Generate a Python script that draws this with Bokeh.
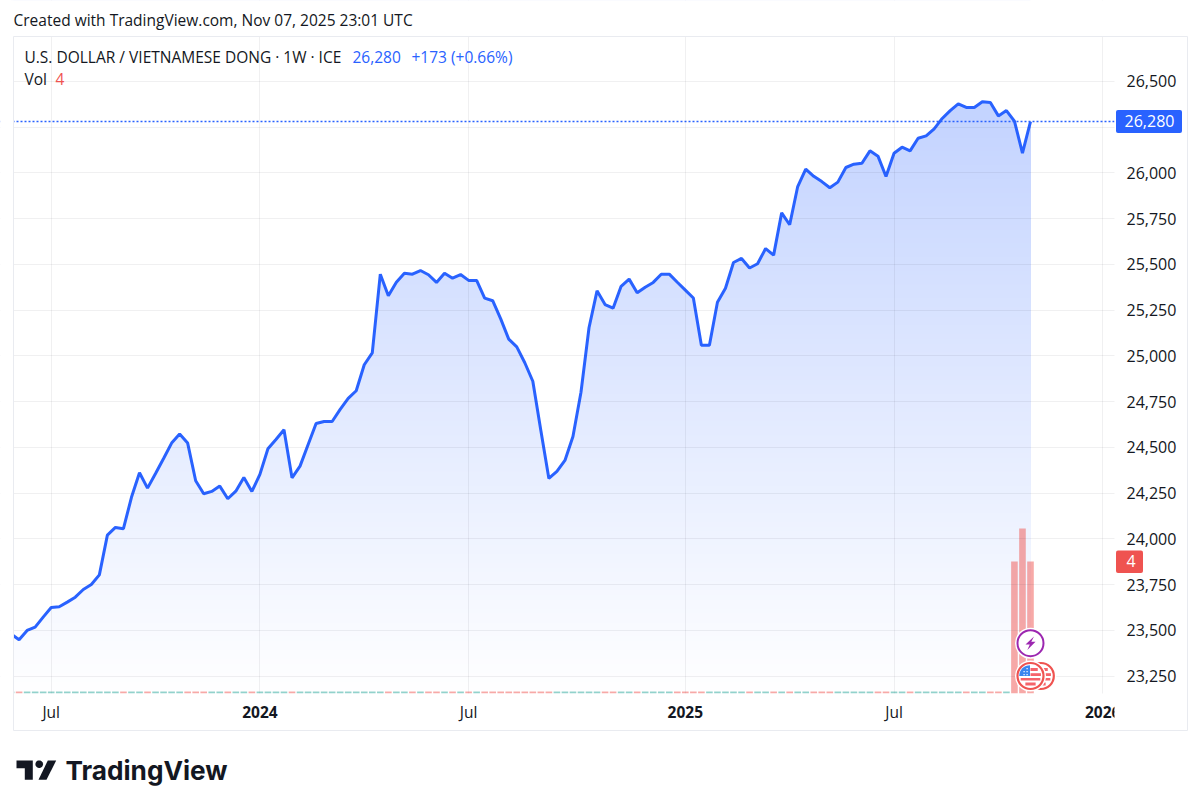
import numpy as np
import pandas as pd
from bokeh.embed import file_html
from bokeh.resources import INLINE
from bokeh.models import (BoxAnnotation, ColumnDataSource, DatetimeAxis, FixedTicker, Grid, Label, LinearAxis,
                          NumeralTickFormatter, PolyAnnotation, Range1d, Span)
from bokeh.plotting import figure

# ---------- data ----------
first_week = "2023-05-29"
close = [23480, 23448, 23499, 23517, 23572, 23625, 23629, 23654, 23681, 23723, 23750, 23803,
         24020, 24062, 24055, 24227, 24361, 24277, 24357, 24439, 24523, 24572, 24523, 24317,
         24246, 24259, 24288, 24219, 24260, 24335, 24259, 24352, 24492, 24543, 24596, 24333,
         24397, 24514, 24630, 24641, 24641, 24707, 24767, 24809, 24951, 25016, 25446, 25328,
         25402, 25451, 25446, 25466, 25443, 25401, 25451, 25424, 25444, 25412, 25412, 25315,
         25301, 25202, 25091, 25049, 24962, 24861, 24592, 24330, 24368, 24428, 24559, 24801,
         25153, 25355, 25280, 25260, 25380, 25419, 25344, 25375, 25401, 25446, 25446, 25402,
         25359, 25316, 25058, 25058, 25293, 25369, 25510, 25532, 25480, 25503, 25586, 25550,
         25781, 25716, 25925, 26020, 25981, 25952, 25918, 25949, 26029, 26047, 26052, 26120,
         26091, 25980, 26107, 26140, 26120, 26189, 26202, 26240, 26297, 26340, 26377, 26357,
         26357, 26388, 26384, 26311, 26340, 26282, 26107, 26280]
volume_tail = [4, 5, 4]
volume_floor = 0.06
price_ticks = [23250, 23500, 23750, 24000, 24250, 24500, 24750, 25000, 25250, 25500,
               25750, 26000, 26250, 26500]
month_ticks = ["2023-07-03", "2024-07-01", "2025-07-07"]
year_ticks = ["2024-01-01", "2025-01-06", "2026-01-05"]
year_labels = ["2024", "2025", "2026"]
last_price = 26280

BLUE, RED, TEAL, INK = "#2962ff", "#ef5350", "#26a69a", "#131722"
FONT = "Open Sans"

weeks = pd.date_range(first_week, periods=len(close), freq="W-MON")
n = len(close)
week_ms = 7 * 24 * 3600 * 1000
ms = lambda s: pd.Timestamp(s).value / 1e6
volume = [volume_floor] * (n - 3) + volume_tail
bar_color = [RED if i and close[i] < close[i - 1] else TEAL for i in range(n)]
bar_color[-3:] = [RED] * 3

# ---------- page geometry (page pixels); the frame fills the whole canvas ----------
W, H = 1192, 803
L, R, T, B = 13, 1114, 36, 693
sx = lambda x: x
sy = lambda y: H - y

anchor = ms(month_ticks[0])
px_week = 8.027
x_range = Range1d(anchor + (0 - 50.7) / px_week * week_ms, anchor + (W - 50.7) / px_week * week_ms)
px_unit = 0.183
val = lambda y: 26000 + (172.3 - y) / px_unit
y_low, y_high = val(H), val(0)
y_base = val(B)
y_range = Range1d(y_low, y_high)

p = figure(width=W, height=H, output_backend="svg", toolbar_location=None,
           x_range=x_range, y_range=y_range, x_axis_location=None, y_axis_location=None,
           x_axis_type="datetime", min_border=0, outline_line_color=None,
           background_fill_color="white", border_fill_color="white")
vol_px = 33.0
p.extra_y_ranges = {"vol": Range1d(-(H - B) / vol_px, B / vol_px)}
p.grid.visible = False

# gradient fill: painter-ordered bands, then white above the price line
edges = np.arange(y_high, y_base, -25.0)
alpha = 0.28 * np.clip((edges - y_base) / (val(101) - y_base), 0, 1)
rgb = [(255 - (255 - 41) * a, 255 - (255 - 98) * a, 255) for a in alpha]
colors = ["#%02x%02x%02x" % (round(a), round(b), round(c)) for a, b, c in rgb]
p.quad(left=[weeks[0]] * len(edges), right=[weeks[-1]] * len(edges), top=edges, bottom=[y_base] * len(edges),
       fill_color=colors, line_color=None)
mask_x = list(weeks) + [weeks[-1] + pd.Timedelta(days=7)]
p.varea(x=mask_x, y1=close + [close[-1]], y2=[y_high] * (n + 1), fill_color="white")

# grid
month_ms = [ms(d) for d in month_ticks]
year_ms = [ms(d) for d in year_ticks]
for dim, ticks in ((0, month_ms + year_ms), (1, price_ticks)):
    p.add_layout(Grid(dimension=dim, ticker=FixedTicker(ticks=ticks), grid_line_color="#2a2e39",
                      grid_line_alpha=0.07, grid_line_width=1, level="guide"))

# volume
src = ColumnDataSource(dict(x=weeks, v=volume, c=bar_color))
p.vbar(x="x", top="v", bottom=0, width=6.6 / px_week * week_ms, source=src, y_range_name="vol",
       fill_color="c", fill_alpha=0.5, line_color=None, level="guide")

# price line
p.renderers.append(Span(location=last_price, dimension="width", line_color=BLUE, line_width=1.4,
                        line_dash=[2, 2], level="guide"))
p.line(weeks, close, line_color=BLUE, line_width=3, level="guide")

def box(x0, x1, y0, y1, fill, radius=0, line=None, level="overlay"):
    b = BoxAnnotation(left=sx(x0), right=sx(x1), top=sy(y0), bottom=sy(y1),
                      left_units="screen", right_units="screen", top_units="screen", bottom_units="screen",
                      fill_color=fill, fill_alpha=1 if fill else 0, line_color=line, line_alpha=1 if line else 0,
                      border_radius=radius, level=level, editable=False)
    p.renderers.append(b)
    return b

def poly(xs, ys, color):
    p.renderers.append(PolyAnnotation(xs=[sx(v) for v in xs], ys=[sy(v) for v in ys], xs_units="screen",
                                      ys_units="screen", fill_color=color, fill_alpha=1, line_alpha=0,
                                      level="overlay"))

# margins around the pane
box(-5, L, -5, H + 5, "white", level="annotation")
box(R, W + 5, -5, H + 5, "white", level="annotation")
box(-5, W + 5, -5, T, "white", level="annotation")
box(-5, W + 5, B, H + 5, "white", level="annotation")

# axes, pinned inside the frame
yax = LinearAxis(fixed_location=x_range.start + R / px_week * week_ms, ticker=FixedTicker(ticks=price_ticks),
                 formatter=NumeralTickFormatter(format="0,0"), axis_line_color=None, major_tick_line_color=None,
                 minor_tick_line_color=None, major_label_standoff=6, major_label_text_font=FONT,
                 major_label_text_font_size="16px", major_label_text_color=INK,
                 major_label_overrides={26250: ""}, level="overlay")
p.add_layout(yax, "right")
xax = DatetimeAxis(fixed_location=y_base, ticker=FixedTicker(ticks=month_ms),
                   major_label_overrides={m: "Jul" for m in month_ms}, axis_line_color=None,
                   major_tick_line_color=None, minor_tick_line_color=None, major_label_standoff=1,
                   major_label_text_font=FONT, major_label_text_font_size="15.5px", major_label_text_color=INK,
                   level="overlay")
p.add_layout(xax, "below")

def text(x, y, s, size=15.5, color=INK, style="normal", align="left", font=FONT, xunits="screen"):
    lab = Label(x=x if xunits == "data" else sx(x), y=sy(y - 1), x_units=xunits, y_units="screen", text=s,
                text_font=font, text_font_size=f"{size}px", text_color=color, text_font_style=style,
                text_align=align, text_baseline="middle", level="overlay")
    p.renderers.append(lab)
    return lab

for m, lab in zip(year_ms, year_labels):
    text(m, 712, lab, size=15.5, style="bold", align="center", xunits="data")

# hide the clipped part of the last year label, draw frame
box(R, R + 50, 697, 727, "white")
box(L, 1187, T, 730, None, line="#e9ebf0")

# events
bx, by = 1030, 642.7
p.scatter([weeks[-1]], [val(by)], size=31, fill_color="white", line_color=None, level="overlay")
p.scatter([weeks[-1]], [val(by)], size=26, fill_color="white", line_color="#9c27b0", line_width=2, level="overlay")
poly([bx + 3.5, bx - 5, bx - 0.7, bx - 3.2, bx + 5, bx + 0.8],
     [by - 6.8, by + 1.2, by + 1.2, by + 6.8, by - 1.4, by - 1.4], "#9c27b0")

def flag(cx, date):
    cy, r = 675.5, 10.8
    p.scatter([date], [val(cy)], size=31, fill_color="white", line_color=None, level="overlay")
    p.scatter([date], [val(cy)], size=26, fill_color="white", line_color=RED, line_width=2.2, level="overlay")
    for y0, y1, x_min in [(667.5, 670.5, cx), (672.7, 675.5, cx), (677.5, 680, cx - 20), (682, 685, cx - 20)]:
        dy = max(abs(y0 - cy), abs(y1 - cy))
        half = (r ** 2 - dy ** 2) ** 0.5
        box(max(cx - half, x_min), cx + half, y0, y1, "#f5636a")
    t = np.linspace(np.pi, 1.5 * np.pi, 9)
    poly([cx - 0.5] + [cx - 0.5 + r * np.cos(a) for a in t], [cy] + [cy + r * np.sin(a) for a in t], "#3b86ef")
    for dx, dy in [(-7, -2), (-4, -2), (-7, -5), (-4, -5), (-4, -8)]:
        box(cx + dx, cx + dx + 1.2, cy + dy, cy + dy + 1.2, "white")

flag(1040, weeks[-1] + pd.Timedelta(days=9))
flag(1030, weeks[-1])

# price tags
box(1115.5, 1181.5, 109.5, 132.5, BLUE, radius=2)
text(1149, 121, "26,280", size=16, color="white", align="center")
box(1115.5, 1142.5, 550, 572.5, RED, radius=2)
text(1130.5, 561.5, "4", size=16, color="white", align="center")

# header texts
text(13, 20, "Created with TradingView.com, Nov 07, 2025 23:01 UTC")
text(24, 57, "U.S. DOLLAR / VIETNAMESE DONG \u00b7 1W \u00b7 ICE")
text(352, 57, "26,280", color=BLUE)
text(411, 57, "+173 (+0.66%)", color=BLUE)
text(24, 79, "Vol")
text(55, 79, "4", color=RED)

# logo
poly([16, 32.3, 32.3, 24.3, 24.3, 16], [760, 760, 779.3, 779.3, 767.7, 767.7], INK)
poly([47.3, 55.7, 46, 38], [760, 760, 779.3, 779.3], INK)
t = np.linspace(0, 2 * np.pi, 24)
poly([38.7 + 3.8 * np.cos(a) for a in t], [763.7 + 3.8 * np.sin(a) for a in t], INK)
text(65, 771, "TradingView", size=26.2, style="bold", font="Inter")

open("out.html", "w").write(file_html(p, INLINE))
